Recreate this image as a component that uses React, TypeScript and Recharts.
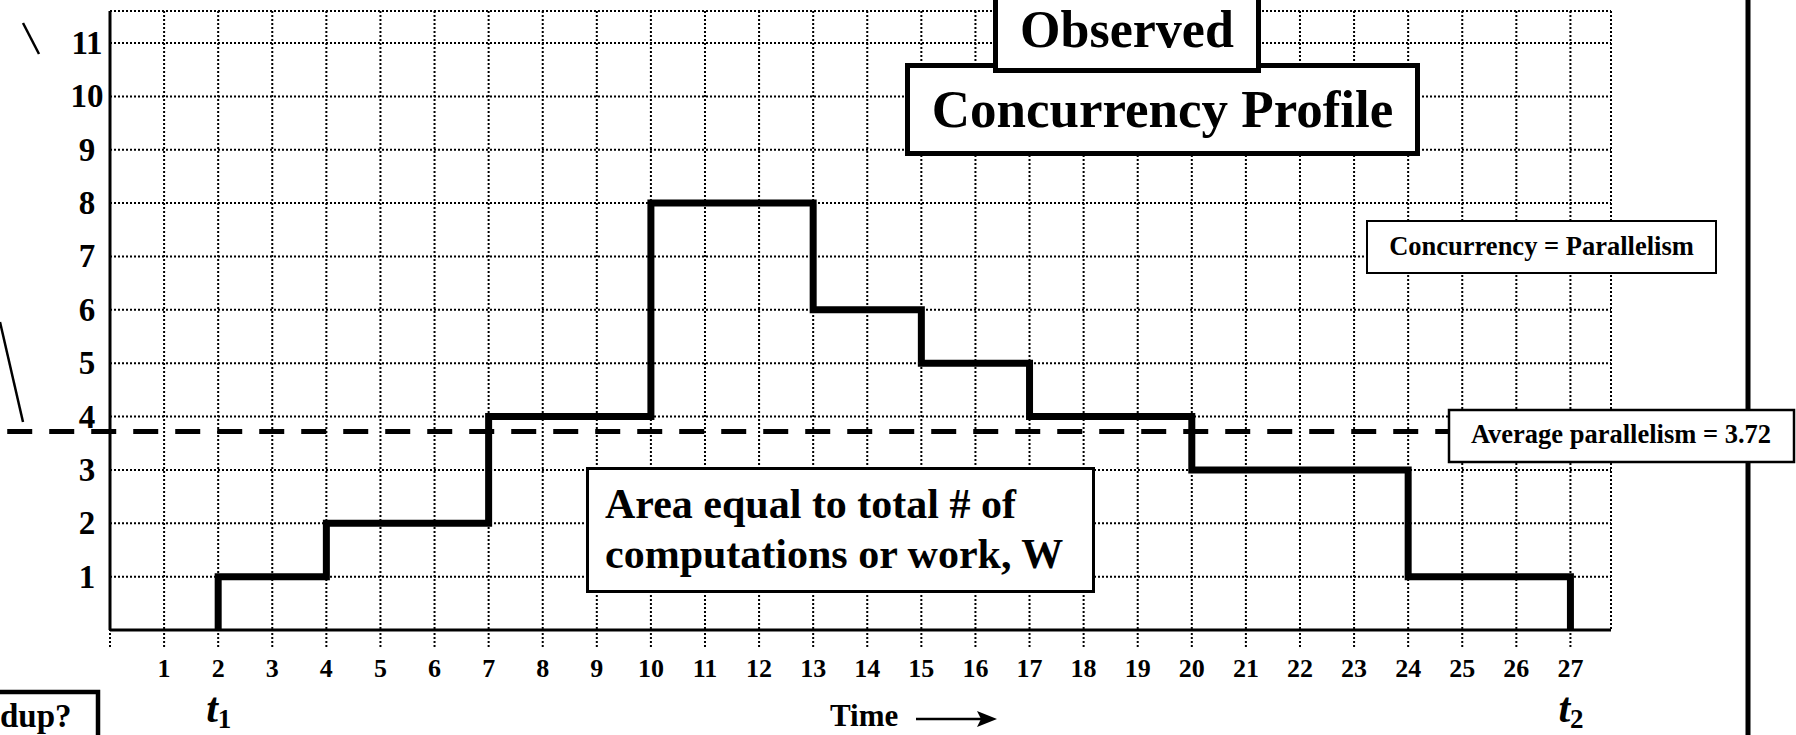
import React from 'react';
import { LineChart, Line, XAxis, YAxis, CartesianGrid, ReferenceLine } from 'recharts';

// ---- data ----
const timeTicks = [0, 1, 2, 3, 4, 5, 6, 7, 8, 9, 10, 11, 12, 13, 14, 15, 16, 17, 18, 19, 20, 21, 22, 23, 24, 25, 26, 27];
const parallelismTicks = [0, 1, 2, 3, 4, 5, 6, 7, 8, 9, 10, 11];
const stepTimes = [2, 2, 4, 7, 10, 13, 15, 17, 20, 24, 27];
const concurrency = [0, 1, 2, 4, 8, 6, 5, 4, 3, 1, 0];
const AVERAGE_PARALLELISM = 3.72;
const T1 = 2;
const T2 = 27;
const X_DOMAIN: [number, number] = [0, 27.75];
const Y_DOMAIN: [number, number] = [0, 11.6];
const AVG_LINE_START = -1.9;

const profileData = stepTimes.map((t, i) => ({ t, c: concurrency[i] }));

const FONT = '"Liberation Serif", "Times New Roman", serif';

const XTick = (props: any) => {
  const { x, y, payload } = props;
  const v = payload.value;
  return (
    <g>
      {v > 0 && (
        <text x={x} y={y + 30} textAnchor="middle" fontFamily={FONT} fontWeight="bold" fontSize={26} fill="#000">
          {v}
        </text>
      )}
      {(v === T1 || v === T2) && (
        <text x={x - 12} y={y + 75} fontFamily={FONT} fontWeight="bold" fontStyle="italic" fontSize={42} fill="#000">
          t
          <tspan fontSize={27} fontStyle="normal" dy={6}>{v === T1 ? '1' : '2'}</tspan>
        </text>
      )}
    </g>
  );
};

const YTick = (props: any) => {
  const { x, y, payload } = props;
  const v = payload.value;
  if (v <= 0) return <g />;
  return (
    <text x={x - 23} y={y + 11} textAnchor="middle" fontFamily={FONT} fontWeight="bold" fontSize={33} fill="#000">
      {v}
    </text>
  );
};

export default function App() {
  return (
    <div style={{ position: 'absolute', left: 0, top: 0, width: 1796, height: 735, background: '#fff', overflow: 'hidden' }}>
      <LineChart width={1796} height={735} data={profileData} margin={{ top: 11, right: 185, bottom: 0, left: 0 }}>
        <CartesianGrid stroke="#000" strokeWidth={2} strokeDasharray="2 2" />
        <XAxis
          dataKey="t"
          type="number"
          domain={X_DOMAIN}
          ticks={timeTicks}
          interval={0}
          height={105}
          tickSize={17}
          tickMargin={0}
          axisLine={{ stroke: '#000', strokeWidth: 3 }}
          tickLine={{ stroke: '#000', strokeWidth: 2, strokeDasharray: '2 2' }}
          tick={<XTick />}
          allowDataOverflow
        />
        <YAxis
          type="number"
          domain={Y_DOMAIN}
          ticks={parallelismTicks}
          interval={0}
          width={110}
          tickSize={0}
          tickMargin={0}
          axisLine={{ stroke: '#000', strokeWidth: 3 }}
          tickLine={false}
          tick={<YTick />}
          allowDataOverflow
        />
        <ReferenceLine
          segment={[{ x: AVG_LINE_START, y: AVERAGE_PARALLELISM }, { x: X_DOMAIN[1], y: AVERAGE_PARALLELISM }]}
          stroke="#000"
          strokeWidth={5}
          strokeDasharray="25 17"
          ifOverflow="visible"
        />
        <Line
          type="stepAfter"
          dataKey="c"
          stroke="#000"
          strokeWidth={7}
          dot={false}
          activeDot={false}
          isAnimationActive={false}
        />
      </LineChart>
      <svg width={1796} height={735} style={{ position: 'absolute', left: 0, top: 0, pointerEvents: 'none' }}>
        <line x1={23} y1={23} x2={39} y2={54} stroke="#000" strokeWidth={2.5} />
        <line x1={0} y1={322} x2={23} y2={422} stroke="#000" strokeWidth={2.5} />
        <line x1={1748} y1={0} x2={1748} y2={735} stroke="#000" strokeWidth={5} />

        <rect x={907.5} y={65.5} width={510} height={88} fill="#fff" stroke="#000" strokeWidth={5} />
        <text x={1162.5} y={127} textAnchor="middle" fontFamily={FONT} fontWeight="bold" fontSize={53} fill="#000">
          Concurrency Profile
        </text>
        <rect x={995.5} y={-10} width={263} height={80.5} fill="#fff" stroke="#000" strokeWidth={5} />
        <text x={1127} y={47} textAnchor="middle" fontFamily={FONT} fontWeight="bold" fontSize={52} fill="#000">
          Observed
        </text>

        <rect x={1367} y={221} width={349} height={52} fill="#fff" stroke="#000" strokeWidth={2} />
        <text x={1541.5} y={255} textAnchor="middle" fontFamily={FONT} fontWeight="bold" fontSize={26.5} fill="#000">
          Concurrency = Parallelism
        </text>

        <rect x={1449} y={410} width={345} height={52} fill="#fff" stroke="#000" strokeWidth={2.5} />
        <text x={1621} y={443} textAnchor="middle" fontFamily={FONT} fontWeight="bold" fontSize={26.5} fill="#000">
          {`Average parallelism = ${AVERAGE_PARALLELISM}`}
        </text>

        <rect x={587.5} y={468.5} width={506} height={123} fill="#fff" stroke="#000" strokeWidth={3} />
        <text x={605} y={518} fontFamily={FONT} fontWeight="bold" fontSize={42} fill="#000">
          Area equal to total # of
        </text>
        <text x={605} y={568} fontFamily={FONT} fontWeight="bold" fontSize={42} fill="#000">
          computations or work, W
        </text>

        <rect x={-10} y={692} width={108} height={60} fill="#fff" stroke="#000" strokeWidth={4.5} />
        <text x={0} y={727} fontFamily={FONT} fontWeight="bold" fontSize={33} fill="#000">
          dup?
        </text>

        <text x={830} y={726} fontFamily={FONT} fontWeight="bold" fontSize={31} fill="#000">
          Time
        </text>
        <line x1={916} y1={719} x2={985} y2={719} stroke="#000" strokeWidth={2.5} />
        <polygon points="997,719 977,711 981,719 977,727" fill="#000" />
      </svg>
    </div>
  );
}
